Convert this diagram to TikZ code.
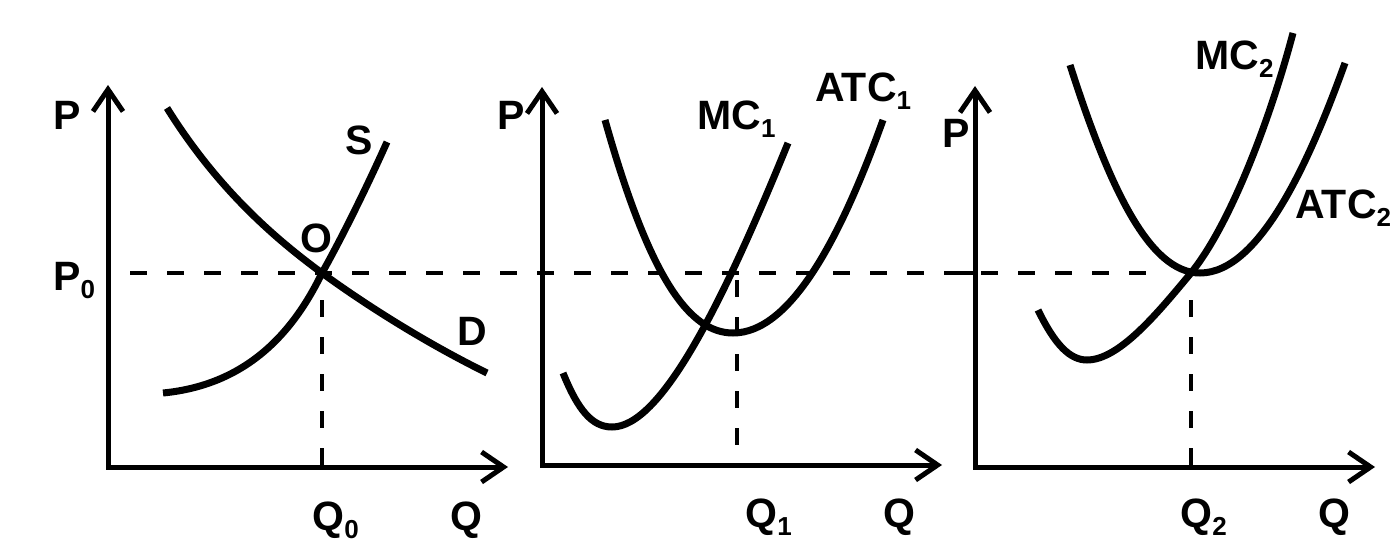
\documentclass[tikz,border=0pt]{standalone}
\usepackage{fontspec}
\setmainfont{Liberation Sans}
\usetikzlibrary{arrows.meta}
\newcommand{\lbl}[2]{#1\raisebox{-4pt}{\fontsize{13}{13}\selectfont #2}}

\begin{document}
\begin{tikzpicture}[x=0.5pt, y=-0.5pt,
  font=\fontsize{20.5}{24}\selectfont\bfseries,
  axis/.style={line width=2.5pt,
               {Straight Barb[length=11pt,width=15pt]}-{Straight Barb[length=11pt,width=15pt]}},
  curve/.style={line width=3.5pt},
  guide/.style={line width=2pt, dash pattern=on 8.5pt off 10pt},
  tag/.style={anchor=base west, inner sep=0pt}
]
  \useasboundingbox (0,0) rectangle (1391,556);

  % axes
  \draw[axis] (108,85) -- (108,467) -- (508,467);
  \draw[axis] (542,87) -- (542,465) -- (942,465);
  \draw[axis] (975,86) -- (975,467) -- (1375,467);

  % equilibrium points
  \coordinate (eqO) at (322,273);
  \coordinate (eqA) at (733,333);
  \coordinate (eqB) at (1191,273);

  % guides
  \draw[guide] (130,273) -- (1162,273);
  \draw[line width=2pt] (960,273) -- (975,273);
  \draw[guide] (322,300) -- (322,467);
  \draw[guide] (737,280) -- (737,465);
  \draw[guide] (1191,300) -- (1191,467);

  % market
  \draw[curve] (167,108) .. controls (215,185) and (270,235) .. (eqO)
               .. controls (370,308) and (430,345) .. (487,373);
  \draw[curve] (163,393) .. controls (245,385) and (292,335) .. (eqO)
               .. controls (345,232) and (370,180) .. (387,142);

  % firm 1
  \draw[curve] (563,373) .. controls (578,410) and (592,427) .. (612,427)
               .. controls (660,427) and (720,310) .. (788,143);
  \draw[curve] (605,120) .. controls (650,280) and (690,333) .. (eqA)
               .. controls (790,333) and (840,240) .. (883,120);

  % firm 2
  \draw[curve] (1038,310) .. controls (1055,345) and (1070,360) .. (1087,360)
               .. controls (1120,360) and (1160,310) .. (eqB)
               .. controls (1230,225) and (1270,120) .. (1293,33);
  \draw[curve] (1070,65) .. controls (1110,190) and (1150,273) .. (1200,273)
               .. controls (1260,273) and (1310,160) .. (1345,63);

  % labels
  \node[tag] (p1)  at (53,130)   {P};
  \node[tag] (p0)  at (53,290)   {\lbl{P}{0}};
  \node[tag] (s)   at (345,155)  {S};
  \node[tag] (o)   at (300,252)  {O};
  \node[tag] (d)   at (457,345)  {D};
  \node[tag] (q0)  at (312,530)  {\lbl{Q}{0}};
  \node[tag] (qa)  at (450,530)  {Q};

  \node[tag] (p2)  at (497,130)  {P};
  \node[tag] (mc1) at (697,130)  {\lbl{MC}{1}};
  \node[tag] (atc1) at (815,102) {\lbl{ATC}{1}};
  \node[tag] (q1)  at (745,527)  {\lbl{Q}{1}};
  \node[tag] (qb)  at (883,527)  {Q};

  \node[tag] (p3)  at (942,148)  {P};
  \node[tag] (mc2) at (1195,70)  {\lbl{MC}{2}};
  \node[tag] (atc2) at (1295,218) {\lbl{ATC}{2}};
  \node[tag] (q2)  at (1180,527) {\lbl{Q}{2}};
  \node[tag] (qc)  at (1318,527) {Q};
\end{tikzpicture}
\end{document}
